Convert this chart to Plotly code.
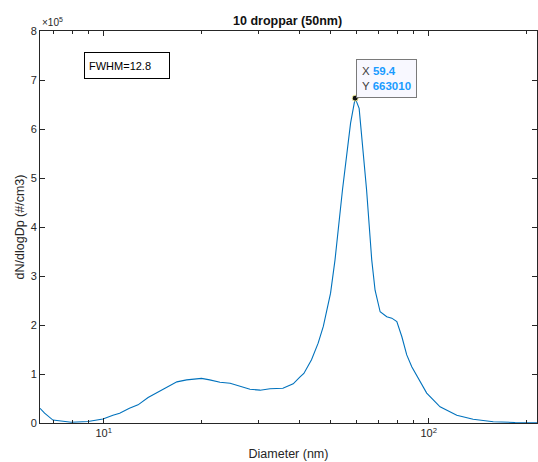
import math
import plotly.graph_objects as go

# ---- data ----
diameter_nm = [6.37, 6.58, 6.98, 7.50, 7.95, 8.95, 9.95, 10.68, 11.2, 12.0, 12.76, 13.7,
               14.7, 15.8, 16.8, 18.0, 20.0, 21.2, 22.8, 24.5, 26.3, 28.2, 30.3, 32.5,
               35.6, 38.3, 40.2, 41.3, 43.6, 45.7, 47.4, 49.9, 51.5, 54.3, 57.5, 59.4,
               61.1, 64.4, 66.8, 68.4, 70.9, 74.3, 77.0, 79.8, 82.7, 85.6, 88.7, 93.6,
               98.6, 108.4, 122.0, 137.0, 158.0, 184.5, 215.4]
dN_e5 = [0.30, 0.20, 0.06, 0.03, 0.015, 0.03, 0.08, 0.16, 0.20, 0.30, 0.37, 0.52,
         0.63, 0.74, 0.84, 0.88, 0.91, 0.88, 0.83, 0.81, 0.75, 0.69, 0.67, 0.70,
         0.71, 0.80, 0.94, 1.01, 1.29, 1.63, 1.97, 2.65, 3.33, 4.76, 6.12, 6.6301,
         6.42, 4.76, 3.33, 2.71, 2.27, 2.17, 2.14, 2.07, 1.76, 1.39, 1.15, 0.88,
         0.61, 0.33, 0.16, 0.075, 0.027, 0.01, 0.005]
dNdlogDp = [v * 1e5 for v in dN_e5]

peak_x = 59.4
peak_y = 663010
fwhm_text = "FWHM=12.8"
title_text = "10 droppar (50nm)"
x_label = "Diameter (nm)"
y_label = "dN/dlogDp (#/cm3)"

y_tickvals = [i * 1e5 for i in range(9)]
y_ticktext = [str(i) for i in range(9)]
x_major = [10, 100]
x_major_text = ["10<sup>1</sup>", "10<sup>2</sup>"]
x_minor = [7, 8, 9, 20, 30, 40, 50, 60, 70, 80, 90, 200]

FONT = "Liberation Sans, Arial, Helvetica, sans-serif"
AX = "#262626"

fig = go.Figure()
fig.add_trace(go.Scatter(x=diameter_nm, y=dNdlogDp, mode="lines",
                         line=dict(color="#0072BD", width=1.1), showlegend=False))
fig.add_trace(go.Scatter(x=[peak_x], y=[peak_y], mode="markers",
                         marker=dict(color="#111111", size=6,
                                     line=dict(color="#f2f0a0", width=1)),
                         showlegend=False))

fig.update_layout(
    width=538, height=462,
    margin=dict(l=40, r=1, t=31, b=39),
    paper_bgcolor="white", plot_bgcolor="white",
    font=dict(family=FONT, size=11, color=AX),
    title=dict(text="<b>" + title_text + "</b>", x=0.5345, xanchor="center",
               y=0.9545, yanchor="middle", font=dict(size=12.5, color="#111111")),
    showlegend=False,
)
fig.update_xaxes(
    type="log",
    range=[math.log10(diameter_nm[0]), math.log10(diameter_nm[-1])],
    tickmode="array", tickvals=x_major, ticktext=x_major_text,
    ticks="inside", ticklen=5, tickwidth=1, tickcolor=AX,
    minor=dict(tickmode="array", tickvals=x_minor, ticks="inside", ticklen=3,
               tickwidth=1, tickcolor=AX, showgrid=False),
    showline=True, linecolor=AX, linewidth=1, mirror="ticks",
    showgrid=False, zeroline=False,
    tickfont=dict(size=11, color=AX),
    title=dict(text=x_label, font=dict(size=12.5, color=AX), standoff=11),
)
fig.update_yaxes(
    range=[0, 8e5],
    tickmode="array", tickvals=y_tickvals, ticktext=y_ticktext,
    ticks="inside", ticklen=5, tickwidth=1, tickcolor=AX,
    showline=True, linecolor=AX, linewidth=1, mirror="ticks",
    showgrid=False, zeroline=False,
    tickfont=dict(size=11, color=AX),
    title=dict(text=y_label, font=dict(size=12.5, color=AX), standoff=3),
)

# exponent label
fig.add_annotation(xref="paper", yref="paper", x=0, y=1, xanchor="left", yanchor="bottom",
                   text="×10<sup>5</sup>", showarrow=False, xshift=0, yshift=1,
                   font=dict(size=10, color=AX))
# FWHM box
fig.add_annotation(xref="paper", yref="paper", x=0.089, y=0.947, xanchor="left", yanchor="top",
                   text=fwhm_text, showarrow=False, align="left",
                   width=76, height=17, borderpad=4,
                   bordercolor="#000000", borderwidth=1, bgcolor="white",
                   font=dict(size=11, color="#000000"))
# data tip anchored on the peak point
blue = "#1a9cff"
tip = ("X <b><span style='color:%s'>%s</span></b><br>Y <b><span style='color:%s'>%s</span></b>"
       % (blue, f"{peak_x:g}", blue, f"{peak_y:d}"))
fig.add_annotation(x=math.log10(peak_x), y=peak_y, xref="x", yref="y",
                   xanchor="left", yanchor="bottom", text=tip, showarrow=False,
                   align="left", borderpad=5, bordercolor="#7a7a7a", borderwidth=1,
                   bgcolor="#f8f8ff", xshift=1, yshift=0,
                   font=dict(size=11.5, color="#404040"))

fig.write_html("out.html", config={"displayModeBar": False},
               post_script="document.body.style.margin='0';document.body.style.padding='0';")
